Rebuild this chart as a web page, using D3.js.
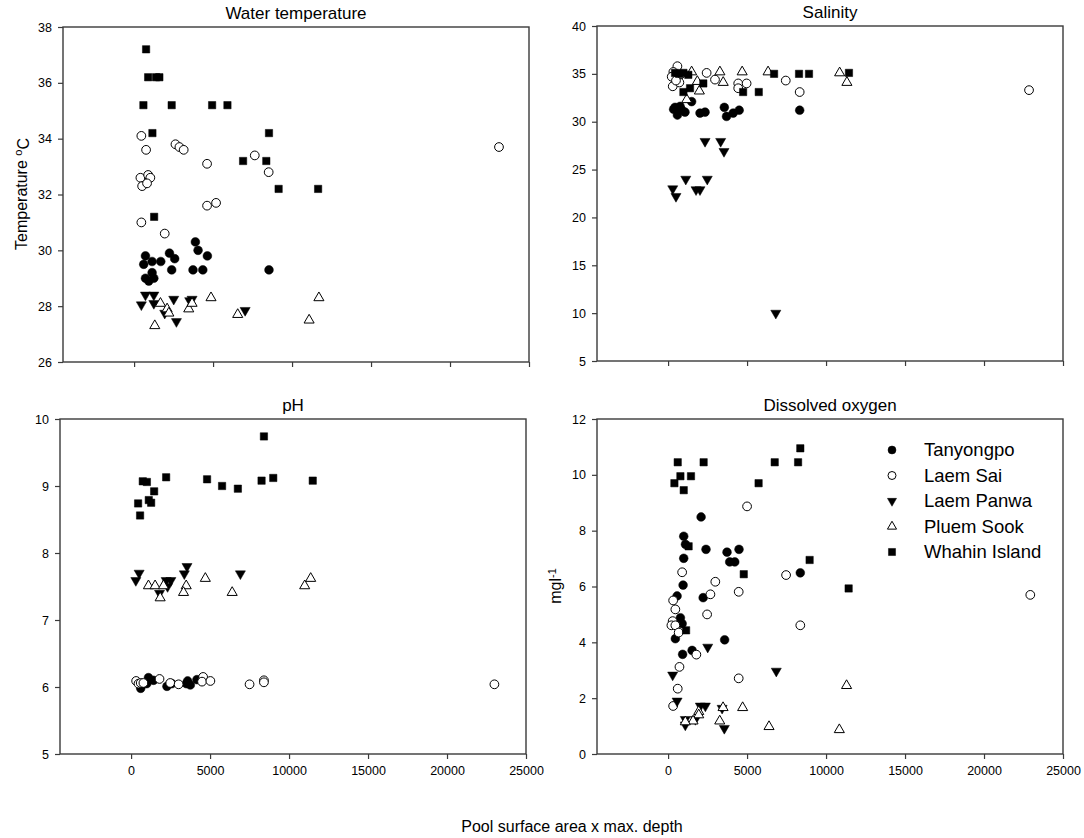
<!DOCTYPE html>
<html>
<head>
<meta charset="utf-8">
<script src="https://cdn.jsdelivr.net/npm/d3@7"></script>
<style>
  body { margin: 0; background: #fff; }
  text { font-family: "Liberation Sans", Arial, sans-serif; fill: #000; }
</style>
</head>
<body>
<div id="chart"></div>
<script>
// Sites, in legend / draw order
var sites = ["Tanyongpo", "Laem Sai", "Laem Panwa", "Pluem Sook", "Whahin Island"];

// x = pool surface area x max. depth, y = measured value
// Water temperature (°C)
var wtTanyongpo = [[720,29.8],[610,29.5],[1140,29.6],[1690,29.6],[1140,29.2],[720,29.0],[930,28.9],[1250,29.0],[2240,29.9],[2570,29.7],[2380,29.3],[3880,30.3],[4050,30.0],[4640,29.8],[3730,29.3],[4350,29.3],[8540,29.3]];
var wtLaemSai = [[460,34.1],[760,33.6],[2620,33.8],[2870,33.7],[3140,33.6],[4620,33.1],[7640,33.4],[8520,32.8],[400,32.6],[890,32.7],[1030,32.6],[510,32.3],[820,32.4],[4620,31.6],[5190,31.7],[460,31.0],[1940,30.6],[23100,33.7]];
var wtLaemPanwa = [[720,28.4],[1250,28.4],[460,28.05],[1250,28.1],[2510,28.25],[1940,27.75],[2680,27.45],[3670,28.25],[3520,28.2],[7030,27.85]];
var wtPluemSook = [[1310,27.3],[1670,28.1],[2090,27.9],[2200,27.75],[3460,27.9],[3670,28.1],[4870,28.3],[6560,27.7],[11080,27.5],[11700,28.3]];
var wtWhahin = [[760,37.2],[890,36.2],[1390,36.2],[1600,36.2],[590,35.2],[2380,35.2],[4940,35.2],[5910,35.2],[1160,34.2],[8540,34.2],[6900,33.2],[8370,33.2],[9150,32.2],[11650,32.2],[1270,31.2]];

// Salinity
var salTanyongpo = [[440,31.5],[590,30.7],[860,31.25],[1070,31.0],[1490,32.1],[2020,30.9],[2340,31.0],[3560,31.5],[3700,30.55],[4120,30.9],[4500,31.2],[8330,31.2],[350,31.3],[760,31.6]];
var salLaemSai = [[590,35.8],[335,35.2],[230,34.7],[760,34.9],[295,33.7],[715,34.1],[2440,35.1],[2970,34.4],[4440,34.0],[4970,34.0],[4440,33.5],[7450,34.3],[8330,33.1],[22850,33.3],[500,34.3]];
var salLaemPanwa = [[2340,27.95],[3330,27.95],[3540,26.9],[1120,24.0],[2480,24.0],[295,23.0],[500,22.2],[1770,22.9],[2020,22.9],[6820,10.0]];
var salPluemSook = [[1490,35.2],[1850,34.2],[1980,33.2],[1180,32.3],[3280,35.2],[3490,34.1],[4690,35.2],[6330,35.2],[10860,35.1],[11320,34.1]];
var salWhahin = [[440,35.1],[700,35.0],[970,35.1],[1280,34.9],[970,33.1],[1390,33.5],[2230,34.0],[4750,33.1],[5740,33.1],[6710,35.0],[8290,35.0],[8920,35.0],[11450,35.1]];

// pH
var phTanyongpo = [[610,5.98],[1100,6.14],[1420,6.10],[2270,6.01],[2580,6.05],[3580,6.09],[3750,6.03],[4170,6.11],[990,6.05],[3500,6.05]];
var phLaemSai = [[320,6.09],[470,6.05],[610,6.06],[780,6.06],[1800,6.12],[2480,6.06],[3010,6.04],[4560,6.15],[4490,6.08],[5020,6.09],[7500,6.04],[8410,6.10],[8410,6.07],[23000,6.04]];
var phLaemPanwa = [[510,7.70],[300,7.59],[3540,7.80],[3370,7.69],[2220,7.59],[2520,7.59],[2310,7.5],[1800,7.40],[6920,7.69]];
var phPluemSook = [[1100,7.51],[1520,7.51],[2050,7.51],[3490,7.51],[3320,7.41],[4700,7.62],[6400,7.41],[11370,7.62],[10990,7.51],[1840,7.33]];
var phWhahin = [[8410,9.74],[740,9.07],[1000,9.06],[2220,9.13],[4810,9.10],[5760,9.0],[6760,8.96],[8260,9.08],[9000,9.12],[11500,9.08],[1460,8.92],[1120,8.79],[1270,8.75],[445,8.74],[570,8.56]];

// Dissolved oxygen (mg/l)
var doTanyongpo = [[2090,8.49],[990,7.8],[1100,7.51],[2400,7.33],[3730,7.23],[4490,7.33],[990,7.01],[3900,6.88],[4220,6.88],[8370,6.49],[950,6.05],[570,5.66],[2220,5.6],[780,4.88],[460,4.13],[3580,4.09],[920,3.57],[1520,3.71],[890,4.67]];
var doLaemSai = [[5000,8.87],[890,6.51],[2990,6.17],[7470,6.41],[2680,5.72],[4470,5.81],[320,5.5],[460,5.18],[2470,5.0],[290,4.76],[210,4.61],[460,4.61],[670,4.35],[8370,4.61],[1790,3.56],[720,3.12],[4470,2.71],[610,2.34],[320,1.72],[22930,5.7]];
var doLaemPanwa = [[2510,3.83],[6850,2.97],[290,2.83],[570,1.9],[2040,1.72],[2360,1.72],[3420,1.64],[1090,1.24],[1730,1.24],[1090,1.04],[3560,0.92]];
var doPluemSook = [[3480,1.66],[4720,1.66],[1940,1.52],[1940,1.4],[1580,1.18],[1090,1.15],[3270,1.18],[6390,0.98],[10840,0.87],[11300,2.45]];
var doWhahin = [[8370,10.95],[610,10.45],[2250,10.45],[6750,10.45],[8230,10.45],[780,9.95],[1450,9.95],[400,9.7],[990,9.45],[5730,9.7],[1300,7.44],[8960,6.95],[4790,6.44],[1140,4.43],[11430,5.93]];

// tick values
var xTicks = [0, 5000, 10000, 15000, 20000, 25000];
var wtTicks = [26, 28, 30, 32, 34, 36, 38];
var salTicks = [5, 10, 15, 20, 25, 30, 35, 40];
var phTicks = [5, 6, 7, 8, 9, 10];
var doTicks = [0, 2, 4, 6, 8, 10, 12];

var W = 1084, H = 838;
var PW = 466, PH = 335;   // plot frame size
var FONT_TICK = "12.5px";

var svg = d3.select("#chart").append("svg")
    .attr("width", W)
    .attr("height", H);

svg.append("rect").attr("width", W).attr("height", H).attr("fill", "#fff");

var panels = [
  {title: "Water temperature", left: 63, top: 27, series: [wtTanyongpo, wtLaemSai, wtLaemPanwa, wtPluemSook, wtWhahin], ticks: wtTicks, xLabels: false},
  {title: "Salinity", left: 597, top: 26, series: [salTanyongpo, salLaemSai, salLaemPanwa, salPluemSook, salWhahin], ticks: salTicks, xLabels: false},
  {title: "pH", left: 60, top: 419, series: [phTanyongpo, phLaemSai, phLaemPanwa, phPluemSook, phWhahin], ticks: phTicks, xLabels: true},
  {title: "Dissolved oxygen", left: 597, top: 419, series: [doTanyongpo, doLaemSai, doLaemPanwa, doPluemSook, doWhahin], ticks: doTicks, xLabels: true}
];

// symbol for each site: filled circle, open circle, filled down triangle, open triangle, filled square
var symbolFor = function(i, size) {
	var types = [d3.symbolCircle, d3.symbolCircle, d3.symbolTriangle, d3.symbolTriangle, d3.symbolSquare];
	var sizes = [60, 60, 44, 44, 54];
	return d3.symbol().type(types[i]).size(size || sizes[i])();
};
var isOpen = function(i) { return i == 1 || i == 3; };

var drawMarks = function(g, pts, i, x, y) {
	g.selectAll(null)
		.data(pts)
		.enter()
		.append("path")
		.attr("d", symbolFor(i))
		.attr("transform", function(d) {
			var t = "translate(" + x(d[0]) + "," + y(d[1]) + ")";
			return (i == 2) ? t + " rotate(180)" : t;
		})
		.attr("fill", isOpen(i) ? "#fff" : "#000")
		.attr("stroke", "#000")
		.attr("stroke-width", isOpen(i) ? 1 : 0.5);
};

panels.forEach(function(p) {
	var g = svg.append("g").attr("transform", "translate(" + p.left + "," + p.top + ")");
	var x = d3.scaleLinear().domain([-4500, 25000]).range([0, PW]);
	var y = d3.scaleLinear().domain([p.ticks[0], p.ticks[p.ticks.length - 1]]).range([PH, 0]);

	var xAxis = d3.axisBottom(x).tickValues(xTicks).tickSize(5).tickPadding(7)
		.tickFormat(p.xLabels ? d3.format("d") : "");
	var yAxis = d3.axisLeft(y).tickValues(p.ticks).tickSize(5).tickPadding(6)
		.tickFormat(d3.format("d"));

	var gx = g.append("g").attr("transform", "translate(0," + PH + ")").call(xAxis);
	var gy = g.append("g").call(yAxis);
	[gx, gy].forEach(function(a) {
		a.select(".domain").remove();
		a.selectAll("line").attr("stroke", "#3a3a3a").attr("stroke-width", 1.2);
		a.selectAll("text").style("font-size", FONT_TICK).attr("fill", "#000");
	});

	// frame
	g.append("rect")
		.attr("width", PW).attr("height", PH)
		.attr("fill", "none")
		.attr("stroke", "#3a3a3a")
		.attr("stroke-width", 1.4);

	// title
	g.append("text")
		.attr("x", PW / 2).attr("y", -8)
		.attr("text-anchor", "middle")
		.style("font-size", "17px")
		.text(p.title);

	p.series.forEach(function(pts, i) { drawMarks(g, pts, i, x, y); });
});

// y axis labels
var tl = svg.append("text")
	.attr("transform", "translate(21,194) rotate(-90)")
	.attr("text-anchor", "middle")
	.attr("dy", "0.35em")
	.style("font-size", "16px");
tl.append("tspan").text("Temperature ");
tl.append("tspan").attr("dy", "-0.45em").style("font-size", "11px").text("o");
tl.append("tspan").attr("dy", "0.45em").text("C");

var ml = svg.append("text")
	.attr("transform", "translate(555,586) rotate(-90)")
	.attr("text-anchor", "middle")
	.attr("dy", "0.35em")
	.style("font-size", "16px");
ml.append("tspan").text("mgl");
ml.append("tspan").attr("dy", "-0.45em").style("font-size", "11px").text("-1");

// x axis label
svg.append("text")
	.attr("x", 572).attr("y", 832)
	.attr("text-anchor", "middle")
	.style("font-size", "16px")
	.text("Pool surface area x max. depth");

// legend
var legend = svg.append("g").attr("transform", "translate(892,450)");
sites.forEach(function(s, i) {
	var row = legend.append("g").attr("transform", "translate(0," + (i * 25.5) + ")");
	row.append("path")
		.attr("d", symbolFor(i, i == 2 || i == 3 ? 36 : 50))
		.attr("transform", i == 2 ? "rotate(180)" : null)
		.attr("fill", isOpen(i) ? "#fff" : "#000")
		.attr("stroke", "#000")
		.attr("stroke-width", isOpen(i) ? 1 : 0.5);
	row.append("text")
		.attr("x", 32).attr("dy", "0.35em")
		.style("font-size", "18.5px")
		.text(s);
});
</script>
</body>
</html>
